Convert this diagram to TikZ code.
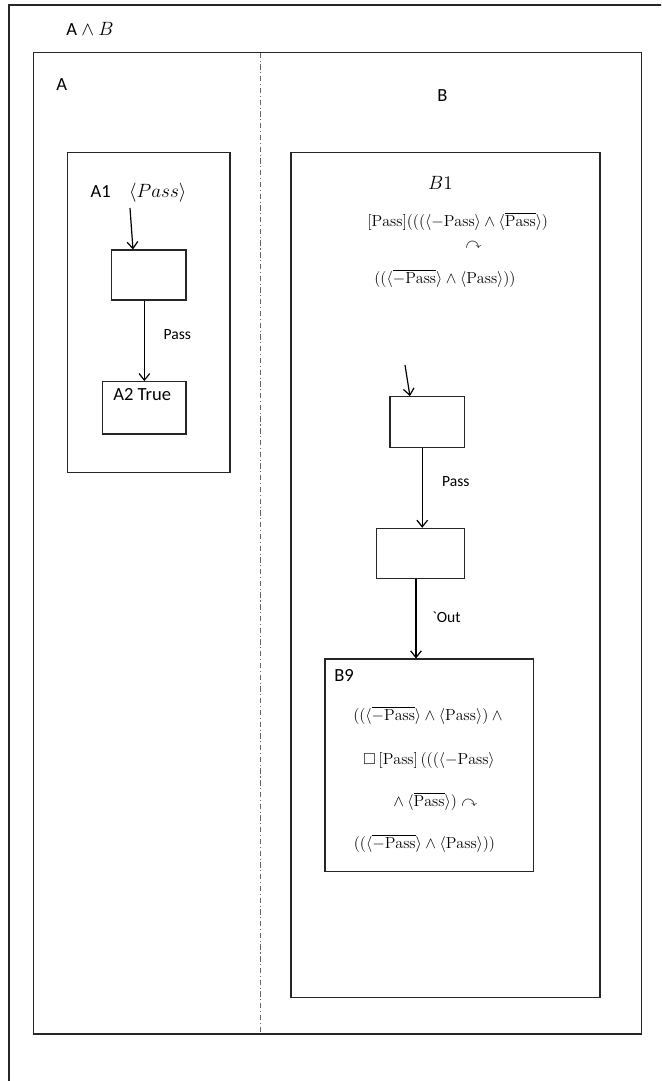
\documentclass[tikz,border=0pt]{standalone}
\usepackage{amsmath}
\usepackage{amssymb}
\usepackage{fontspec}
\setsansfont{Carlito}
\usepackage{tikz}
\usetikzlibrary{arrows.meta, positioning, fit}
\newcommand{\actpass}{\mathrm{Pass}}
\tikzset{
    frame/.style = {draw=black!85, line width=0.8pt},
    state/.style = {rectangle, draw=black!85, line width=0.8pt, inner sep=0pt},
    arrow/.style = {line width=0.9pt, -{Straight Barb[length=5pt, width=8pt]}},
    divider/.style = {draw=black!60, line width=0.6pt, dash pattern=on 4pt off 2pt on 0.8pt off 2pt},
    tag/.style = {font=\sffamily\fontsize{13.9}{16}\selectfont, inner sep=0pt},
    edgelabel/.style = {font=\sffamily\fontsize{11.7}{14}\selectfont, inner sep=0pt},
    formula/.style = {font=\fontsize{12}{14}\selectfont, inner sep=0pt}
}

\begin{document}
\begin{tikzpicture}[x=0.75pt, y=-0.75pt]
    \useasboundingbox (0,0) rectangle (661,1081);
    \clip (0,0) rectangle (661,1081);
    % Marcos
    \draw [frame] (9,5) rectangle (680,1100);
    \draw [frame] (33.5,52.7) rectangle (641.5,1034);
    \draw [divider] (260,52.7) -- (260,1034);
    \draw [frame] (67.3,152.3) rectangle (230,472.3);
    \draw [frame] (291,152.3) rectangle (600,997.7);

    % Textos
    \node (ab) [tag] at (90,29) {A $\wedge$ $B$};
    \node (labA) [tag] at (61.7,85) {A};
    \node (labB) [tag] at (442.5,96) {B};
    \node (a1lab) [tag] at (138.5,193) {A1\quad$\langle Pass\rangle$};
    \node (b1lab) [formula, font=\fontsize{13.5}{16}\selectfont] at (440.5,183) {$B1$};
    \node (b1one) [formula] at (457.7,221.7) {$[\actpass](((\langle -\actpass\rangle \wedge \langle\overline{\actpass}\rangle)$};
    \node (b1two) [formula] at (473.5,245) {$\curvearrowright$};
    \node (b1three) [formula] at (445,278) {$((\langle\overline{-\actpass}\rangle \wedge \langle\actpass\rangle))$};

    % Estados
    \node (atop) [state, fit={(111.7,250) (186,300)}] {};
    \node (a2) [state, fit={(102.7,381.7) (186,434)}] {};
    \node (a2lab) [tag] at (142.2,395) {A2 True};
    \node (btop) [state, fit={(390,396.7) (464.3,447.7)}] {};
    \node (bmid) [state, fit={(376.7,528.3) (464.3,578.3)}] {};
    \node (b9) [state, fit={(325,659) (533.3,871.7)}] {};
    \node (b9lab) [tag] at (344,675) {B9};
    \node (b9one) [formula] at (429.7,715) {$((\langle\overline{-\actpass}\rangle \wedge \langle\actpass\rangle) \wedge{}$};
    \node (b9two) [formula] at (429,760) {$\square\,[\actpass]\,(((\langle -\actpass\rangle$};
    \node (b9three) [formula] at (433.5,801.7) {${}\wedge \langle\overline{\actpass}\rangle) \curvearrowright$};
    \node (b9four) [formula] at (424.5,843.3) {$((\langle\overline{-\actpass}\rangle \wedge \langle\actpass\rangle))$};

    % Flechas
    \coordinate (ain) at (130,208);
    \coordinate (bin) at (405,365);
    \draw [arrow] (ain) -- ([xshift=-11.9pt]atop.north);
    \draw [arrow] (a2.north |- atop.south) -- node [edgelabel, right=14pt, pos=.42] {Pass} (a2.north);
    \draw [arrow] (bin) -- ([xshift=-12.9pt]btop.north);
    \draw [arrow] ([xshift=1.3pt]bmid.north |- btop.south) -- node [edgelabel, right=14.5pt, pos=.42] {Pass} ([xshift=1.3pt]bmid.north);
    \draw [arrow] ([xshift=-3.4pt]bmid.south) -- node [edgelabel, right=11.8pt, pos=.48] {\textasciigrave Out} ([xshift=-3.4pt]bmid.south |- b9.north);
\end{tikzpicture}
\end{document}
